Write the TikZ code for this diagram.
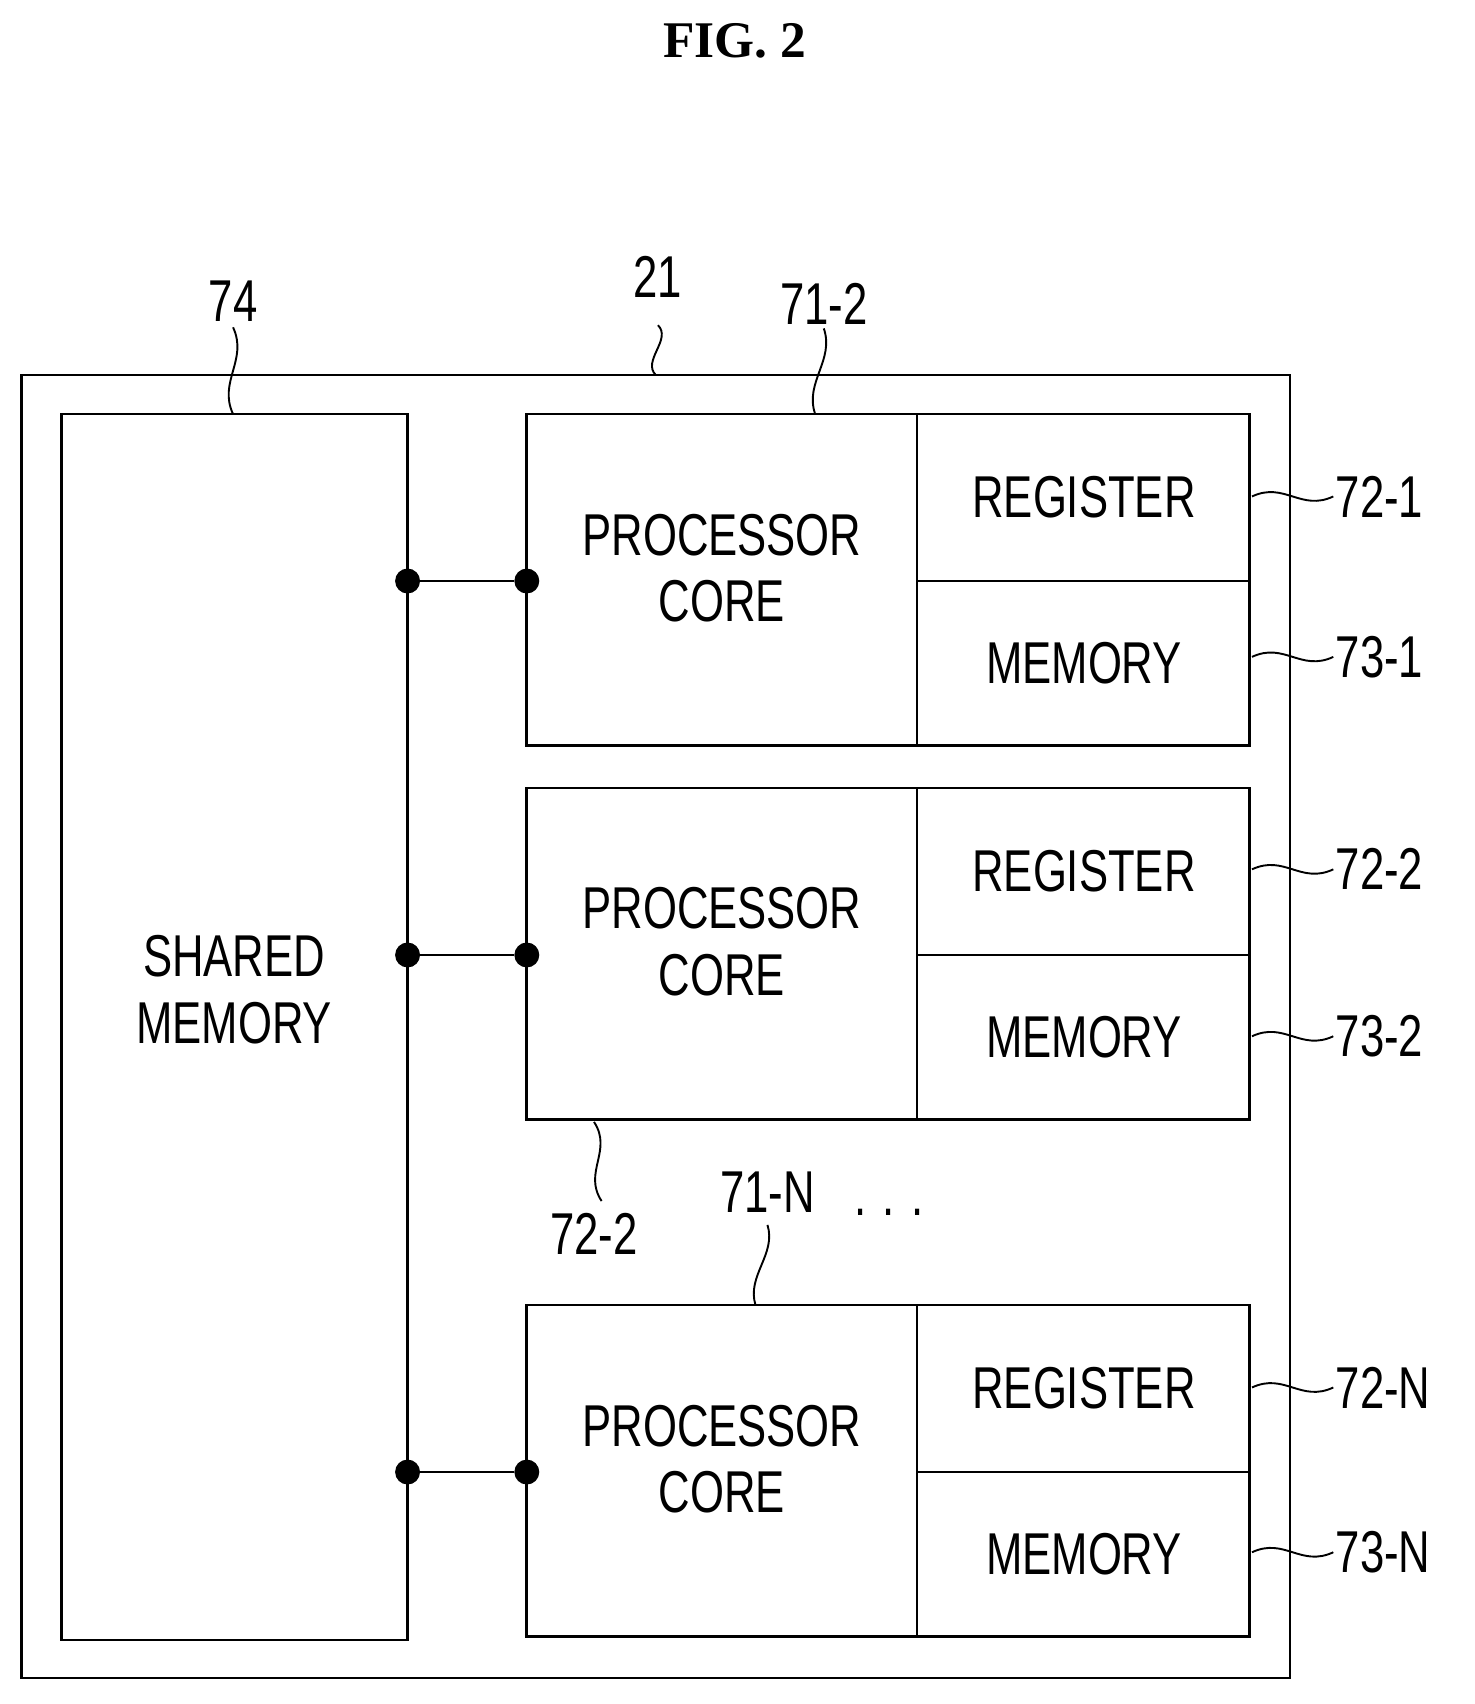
\documentclass[tikz,border=0pt]{standalone}
\usetikzlibrary{calc}
\usepackage{fontspec}
\setmainfont{Liberation Sans}[FakeStretch=0.74]
\newfontfamily\titlefont{Liberation Serif}
\begin{document}
\begin{tikzpicture}[x=0.02cm,y=-0.02cm,
  box/.style={draw,line width=1.4pt},
  lab/.style={font=\fontsize{31}{37}\selectfont,align=center,inner sep=0},
  dot/.style={circle,fill,inner sep=0,minimum size=0.46cm},
  sq/.style={line width=1pt}]
\useasboundingbox (0,0) rectangle (1360,1572);
\node[font=\titlefont\bfseries\fontsize{27}{30}\selectfont] (t) at (678,38) {FIG. 2};
\draw[box] (20,346) rectangle (1190,1548);
\draw[box] (57,382) rectangle (376,1513);
\node[lab] (sm) at (216,913) {SHARED\\[-2pt]MEMORY};
\foreach \i/\y in {1/382,2/727,3/1204}{
  \draw[box] (486,\y) rectangle (1153,\y+306);
  \draw[box] (846,\y) -- (846,\y+306);
  \draw[box] (846,\y+154) -- (1153,\y+154);
  \node[lab] (pc\i) at (666,\y+142) {PROCESSOR\\[-2pt]CORE};
  \node[lab] (rg\i) at (1000,\y+77) {REGISTER};
  \node[lab] (mm\i) at (1000,\y+230) {MEMORY};
  \node[dot] (d\i a) at (376,\y+154) {};
  \node[dot] (d\i b) at (486,\y+154) {};
  \draw[line width=1.4pt] (d\i a) -- (d\i b);
}
% vertical reference labels
\foreach \n/\tx/\ty/\ax/\ay/\bx/\by in {a/215/278/215/302/215/382, b/607/255/607/300/605/346, c/760/280/760/303/752/382, d/548/1138/548/1035/555/1108, e/708/1100/708/1130/697/1204}{
  \coordinate (s\n) at (\ax,\ay);
  \coordinate (e\n) at (\bx,\by);
  \draw[sq] (s\n) .. controls ($(s\n)!0.5!(e\n)+(14,-10)$) and ($(s\n)!0.5!(e\n)+(-14,10)$) .. (e\n);
}
\node[lab] (l74) at (215,278) {74};
\node[lab] (l21) at (607,255) {21};
\node[lab] (l712) at (760,280) {71-2};
\node[lab] (l722b) at (548,1138) {72-2};
\node[lab] (l71N) at (708,1100) {71-N};
\node[lab] (dots) at (820,1118) {. . .};
% side labels
\foreach \n/\y/\t in {f/458/72-1, g/606/73-1, h/802/72-2, i/956/73-2, j/1280/72-N, k/1432/73-N}{
  \coordinate (s\n) at (1155,\y);
  \coordinate (e\n) at (1230,\y);
  \draw[sq] (s\n) .. controls (1185,\y-14) and (1200,\y+14) .. (e\n);
  \node[lab,anchor=west] (l\n) at (1232,\y) {\t};
}
\end{tikzpicture}
\end{document}
